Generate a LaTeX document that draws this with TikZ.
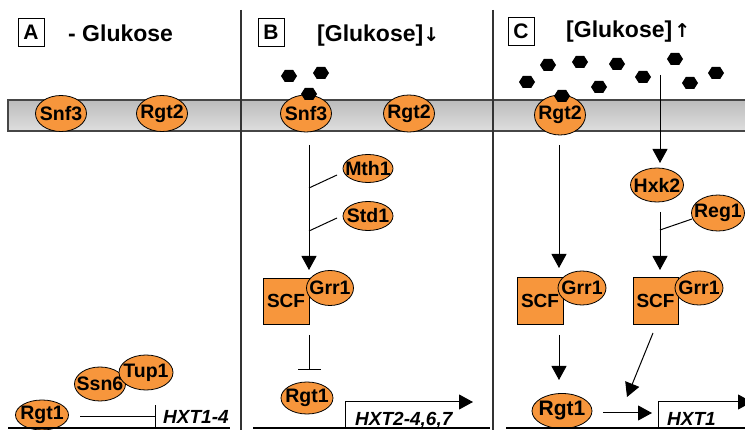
\documentclass[tikz,border=0pt]{standalone}
\usepackage{fontspec}
\setmainfont{Liberation Sans}
\newfontfamily\symfont{DejaVu Sans}
\usetikzlibrary{arrows.meta,shapes.geometric}
\definecolor{protc}{RGB}{247,150,60}
\definecolor{memtop}{RGB}{188,188,188}
\definecolor{membot}{RGB}{222,222,222}
\definecolor{memline}{RGB}{70,70,70}
\newcommand\zw[1]{\makebox[0pt]{#1}}
\tikzset{
  prot/.style={ellipse, draw=black, fill=protc, line width=0.8pt, inner sep=0pt,
    minimum width=51pt, minimum height=36pt, font=\bfseries\fontsize{19.5}{19.5}\selectfont},
  scfbox/.style={rectangle, draw=black, fill=protc, line width=0.8pt, inner sep=0pt,
    minimum width=46pt, minimum height=46pt, font=\bfseries\fontsize{19}{19}\selectfont},
  lettbox/.style={rectangle, draw=black, line width=0.8pt, inner sep=0pt,
    minimum width=26pt, minimum height=28pt, font=\bfseries\fontsize{21}{21}\selectfont},
  title/.style={anchor=base west, inner sep=0pt, font=\bfseries\fontsize{23}{23}\selectfont},
  gene/.style={anchor=base west, inner sep=0pt, font=\bfseries\itshape\fontsize{19}{19}\selectfont},
  act/.style={-{Triangle[width=15pt,length=14pt]}, line width=1pt},
  inh/.style={-{Bar[width=23pt,line width=1pt]}, line width=1pt},
  thin/.style={line width=1pt},
  dna/.style={line width=2.6pt},
  divider/.style={line width=1.2pt, draw=black!80},
  glc/.style={fill=black}
}
\begin{document}
\begin{tikzpicture}[x=1pt,y=-1pt]
\path[use as bounding box] (0,0) rectangle (745,430);
\clip (0,0) rectangle (745,430);

% membrane
\shade[top color=memtop, bottom color=membot] (8,100) rectangle (760,131);
\draw[memline, line width=1.4pt] (760,100) -- (8,100) -- (8,131) -- (760,131);

% dividers
\draw[divider] (241,10) -- (241,432);
\draw[divider] (493,10) -- (493,432);

% panel labels and titles
\node[lettbox] (labA) at (31,32) {A};
\node[lettbox] (labB) at (271,32) {B};
\node[lettbox] (labC) at (521,31.5) {C};
\node[title] (titA) at (68,42) {- Glukose};
\node[title] (titB) at (317,42) {[Glukose]{\symfont\fontsize{19}{19}\selectfont\kern0pt↓}};
\node[title] (titC) at (566,38) {[Glukose]{\symfont\fontsize{19}{19}\selectfont\kern2pt↑}};

% ---------------- Panel A ----------------
\node[prot] (snf3A) at (61,113.5) {\zw{Snf3}};
\node[prot] (rgt2A) at (162,113.5) {\zw{Rgt2}};
\node[prot, minimum width=53pt, minimum height=30pt] (rgt1A) at (42,415) {\zw{Rgt1}};
\node[prot, minimum width=51pt, minimum height=34pt] (ssn6) at (100,384) {\zw{Ssn6}};
\node[prot, minimum width=54pt, minimum height=35pt] (tup1) at (146,372.5) {\zw{Tup1}};
\coordinate (aInhS) at (80,417);
\coordinate (aInhE) at (156,417);
\draw[inh] (aInhS) -- (aInhE);
\node[gene] (hxtA) at (163,424) {HXT1-4};
\coordinate (dnaAs) at (8,428);
\coordinate (dnaAe) at (230,428);
\draw[dna] (dnaAs) -- (dnaAe);

% ---------------- Panel B ----------------
\node[prot, minimum height=37pt] (snf3B) at (306,113.5) {\zw{Snf3}};
\node[prot, minimum height=37pt] (rgt2B) at (409,113.5) {\zw{Rgt2}};
\node[prot, minimum width=50pt, minimum height=28pt] (mth1) at (368,168.5) {\zw{Mth1}};
\node[prot, minimum width=50pt, minimum height=29pt] (std1) at (368,216) {\zw{Std1}};
\node[scfbox] (scfB) at (286,301) {SCF};
\node[prot, minimum width=47pt, minimum height=35pt] (grr1B) at (330,288) {\zw{Grr1}};
\node[prot, minimum width=52pt, minimum height=32pt] (rgt1B) at (307,398) {\zw{Rgt1}};

\coordinate (bTop) at (309,145);
\coordinate (bTip) at (309,270);
\draw[act] (bTop) -- (bTip);
\coordinate (mthS) at (337,175);
\coordinate (mthE) at (309,188);
\draw[thin] (mthS) -- (mthE);
\coordinate (stdS) at (337,218);
\coordinate (stdE) at (309,231);
\draw[thin] (stdS) -- (stdE);
\coordinate (bInhS) at (309,335);
\coordinate (bInhE) at (309,370);
\draw[inh] (bInhS) -- (bInhE);
\coordinate (bPromS) at (345,428);
\coordinate (bPromE) at (473,402);
\draw[act] (bPromS) |- (bPromE);
\node[gene] (hxtB) at (355,426) {HXT2-4,6,7};
\coordinate (dnaBs) at (253,428);
\coordinate (dnaBe) at (490,428);
\draw[dna] (dnaBs) -- (dnaBe);

% ---------------- Panel C ----------------
\node[prot, minimum height=40pt] (rgt2C) at (560,115) {\zw{Rgt2}};
\node[prot, minimum width=53pt, minimum height=34pt] (hxk2) at (657,185) {\zw{Hxk2}};
\node[prot, minimum width=53pt, minimum height=36pt] (reg1) at (718,213) {\zw{Reg1}};
\node[scfbox, minimum height=47pt] (scfC1) at (540,300.5) {SCF};
\node[prot, minimum width=48pt, minimum height=34pt] (grr1C1) at (582,288) {\zw{Grr1}};
\node[scfbox, minimum width=45pt, minimum height=47pt] (scfC2) at (655.5,300.5) {SCF};
\node[prot, minimum width=48pt, minimum height=34pt] (grr1C2) at (699,288) {\zw{Grr1}};
\node[prot, minimum width=60pt, minimum height=35pt, font=\bfseries\fontsize{21}{21}\selectfont] (rgt1C) at (562,411) {\zw{Rgt1}};

\coordinate (c1Top) at (559,145);
\coordinate (c1Tip) at (559,268);
\draw[act] (c1Top) -- (c1Tip);
\coordinate (c2Top) at (559,335);
\coordinate (c2Tip) at (559,380);
\draw[act] (c2Top) -- (c2Tip);
\coordinate (glTop) at (660,75);
\coordinate (glTip) at (660,163);
\draw[act] (glTop) -- (glTip);
\coordinate (hxTop) at (660,212);
\coordinate (hxTip) at (660,270);
\draw[act] (hxTop) -- (hxTip);
\coordinate (regS) at (692,219);
\coordinate (regE) at (660,230);
\draw[thin] (regS) -- (regE);
\coordinate (diagS) at (653,333);
\coordinate (diagE) at (627,397);
\draw[act] (diagS) -- (diagE);
\coordinate (rgS) at (603,413);
\coordinate (rgE) at (652,413);
\draw[act] (rgS) -- (rgE);
\coordinate (cPromS) at (658,428);
\coordinate (cPromE) at (752,402);
\draw[act] (cPromS) |- (cPromE);
\node[gene] (hxtC) at (667,426) {HXT1};
\coordinate (dnaCs) at (506,428);
\coordinate (dnaCe) at (750,428);
\draw[dna] (dnaCs) -- (dnaCe);

% glucose molecules
\foreach \x/\y in {289/76, 321/73, 309/94,
  527/82, 548/65, 580/62, 562/96, 599/87, 617/64, 643/77, 675/59, 690/83, 716/73}
  \fill[glc] (\x-8,\y) -- (\x-4.2,\y-6) -- (\x+4.2,\y-6) -- (\x+8,\y) -- (\x+4.2,\y+6) -- (\x-4.2,\y+6) -- cycle;
\end{tikzpicture}
\end{document}
